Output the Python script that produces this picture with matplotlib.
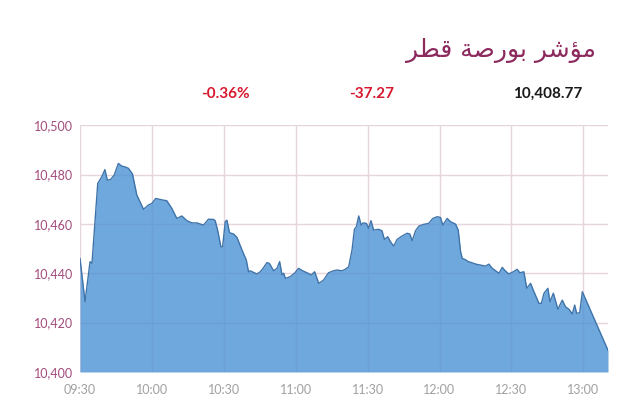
import matplotlib
matplotlib.use("Agg")
import matplotlib.pyplot as plt

# minutes after 09:30 and index level
minutes = [0, 2.1, 4.2, 5.0, 7.4, 9.1, 10.4, 11.4, 12.8, 14.3, 16.0, 17.4, 18.8, 20.2,
           21.9, 23.7, 26.5, 28.5, 30.0, 31.6, 33.4, 34.8, 36.2, 38.3, 40.4, 42.5,
           44.6, 46.7, 48.8, 51.5, 53.6, 55.7, 56.4, 57.4, 58.8, 59.5, 60.6, 61.3,
           62.4, 64.1, 65.5, 67.6, 69.4, 70.3, 71.0, 73.8, 75.2, 76.1, 78.0, 79.0,
           80.8, 82.2, 83.3, 84.3, 85.0, 85.7, 87.7, 89.5, 91.2, 92.9, 94.7, 96.5,
           97.9, 99.6, 101.6, 103.7, 105.8, 107.2, 109.3, 110.7, 112.1, 113.5, 114.5,
           115.3, 116.3, 117.3, 118.1, 119.5, 120.4, 121.4, 122.5, 124.6, 126.0,
           127.0, 128.4, 129.5, 130.9, 132.3, 134.4, 136.5, 137.6, 138.6, 140.0,
           141.4, 143.4, 145.5, 147.2, 149.0, 150.4, 151.4, 153.2, 154.6, 156.7,
           157.8, 158.8, 159.5, 160.6, 162.0, 163.4, 165.1, 167.1, 169.2, 170.6,
           172.0, 173.4, 174.8, 176.2, 177.1, 178.9, 180.8, 182.4, 183.5, 185.2,
           186.4, 188.0, 189.4, 191.5, 192.5, 193.6, 195.2, 196.1, 197.5, 199.4,
           201.2, 202.6, 204.0, 205.4, 206.4, 207.2, 208.5, 209.6, 220.3]
values = [10446.0, 10428.5, 10444.7, 10444.0, 10476.4, 10479.1, 10482.0, 10477.7,
          10478.0, 10479.8, 10484.5, 10483.4, 10483.1, 10482.5, 10480.2, 10471.7,
          10465.9, 10467.6, 10468.3, 10470.3, 10469.9, 10469.6, 10469.4, 10466.3,
          10462.2, 10463.2, 10461.3, 10460.4, 10460.4, 10459.5, 10461.9, 10461.8,
          10461.3, 10457.5, 10450.7, 10450.7, 10460.9, 10461.5, 10456.4, 10455.9,
          10454.5, 10449.4, 10445.3, 10440.6, 10441.0, 10439.7, 10440.6, 10441.6,
          10444.3, 10444.0, 10441.0, 10442.0, 10444.7, 10439.3, 10440.0, 10437.9,
          10438.6, 10440.0, 10442.0, 10441.0, 10440.2, 10439.3, 10440.6, 10435.9,
          10437.2, 10440.2, 10441.0, 10441.3, 10441.0, 10441.6, 10442.6, 10449.4,
          10457.8, 10458.8, 10463.2, 10459.5, 10460.4, 10460.2, 10458.2, 10461.3,
          10457.5, 10457.8, 10457.2, 10453.7, 10454.8, 10452.8, 10451.0, 10453.7,
          10455.1, 10456.2, 10455.9, 10453.2, 10457.2, 10459.1, 10459.8, 10460.2,
          10462.2, 10462.9, 10462.6, 10459.5, 10462.2, 10460.9, 10459.9, 10457.5,
          10448.7, 10446.0, 10445.6, 10444.7, 10444.3, 10443.7, 10443.3, 10442.9,
          10443.7, 10442.0, 10441.0, 10440.0, 10442.4, 10441.3, 10439.7, 10440.6,
          10441.6, 10440.2, 10440.6, 10433.9, 10435.9, 10432.5, 10427.8, 10427.8,
          10431.9, 10433.9, 10428.5, 10431.9, 10425.4, 10429.1, 10426.4, 10425.4,
          10423.5, 10427.1, 10423.8, 10424.0, 10432.5, 10408.77]

tick_minutes = [0, 30, 60, 90, 120, 150, 180, 210]
tick_labels = ["09:30", "10:00", "10:30", "11:00", "11:30", "12:00", "12:30", "13:00"]
y_ticks = [10400, 10420, 10440, 10460, 10480, 10500]

title = "مؤشر بورصة قطر"
# presentation forms in visual (left-to-right) order, matplotlib has no shaping
title_visual = "\uFEAE\uFEC4\uFED7 \uFE94\uFEBB\uFEAD\uFEEE\uFE91 \uFEAE\uFEB7\uFE86\uFEE3"
change_pct = "-0.36%"
change_pts = "-37.27"
last_value = "10,408.77"

plt.rcParams['font.family'] = ['Lato', 'DejaVu Sans']

fig = plt.figure(figsize=(6.4, 4.05), dpi=100)
ax = fig.add_axes([0.125, 0.0815, 0.825, 0.6095])

# semi transparent fill so the grid shows through like the original
ax.fill_between(minutes, values, 10400, color='#4f95d6', alpha=0.82,
                linewidth=0, zorder=2)
ax.plot(minutes, values, color='#3f74aa', linewidth=1, zorder=3)

ax.set_xlim(0, minutes[-1])
ax.set_ylim(10400, 10500)
ax.set_xticks(tick_minutes)
ax.set_xticklabels(tick_labels)
ax.set_yticks(y_ticks)
ax.set_yticklabels([f"{v:,}" for v in y_ticks])
ax.grid(True, color='#e6d6dc', linewidth=1, zorder=1)
ax.set_axisbelow(True)
for s in ax.spines.values():
    s.set_visible(False)
ax.tick_params(axis='both', length=0)
ax.tick_params(axis='x', colors='#a0a0a0', labelsize=9, pad=9)
ax.tick_params(axis='y', colors='#a24c7c', labelsize=9, pad=5)

fig.text(0.931, 0.876, title_visual, ha='right', va='center', fontsize=18,
         color='#8c2a5e', family=['DejaVu Sans'])
fig.text(0.352, 0.768, change_pct, ha='center', va='center', fontsize=11,
         fontweight='bold', color='#d7192f')
fig.text(0.58, 0.768, change_pts, ha='center', va='center', fontsize=11,
         fontweight='bold', color='#d7192f')
fig.text(0.856, 0.768, last_value, ha='center', va='center', fontsize=11,
         fontweight='bold', color='#1a1a1a')

fig.savefig('out.png', dpi=100)
